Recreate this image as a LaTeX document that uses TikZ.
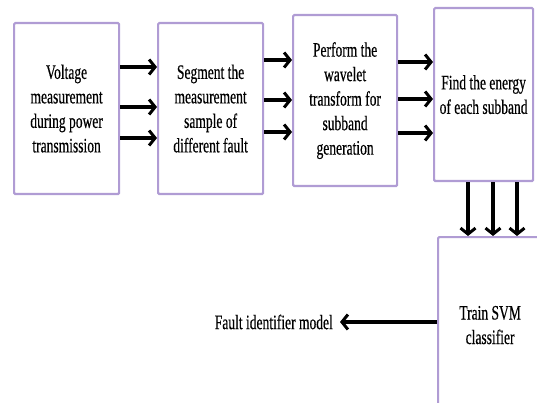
\documentclass[tikz,border=0pt]{standalone}
\usepackage{fontspec}
\usetikzlibrary{arrows.meta,calc}
\newfontfamily\boxfont[FakeStretch=0.66,FakeBold=0.4]{Liberation Serif}
\definecolor{boxedge}{RGB}{176,156,212}
\tikzset{
  stage/.style={draw=boxedge, line width=2.2pt, rounded corners=1.2pt, fill=white,
    anchor=north west, align=center, inner sep=2pt,
    font=\boxfont\fontsize{20.5}{24.5}\selectfont},
  flow/.style={draw=black, line width=3.6pt,
    -{Straight Barb[length=6pt,width=15pt,line width=3pt]}},
  lbl/.style={font=\boxfont\fontsize{20.5}{22}\selectfont, inner sep=0pt}
}
\begin{document}
\begin{tikzpicture}[x=1pt,y=-1pt]
  \useasboundingbox (0,0) rectangle (537,403);
  \clip (0,0) rectangle (537,403);
  % processing stages
  \node[stage, minimum width=105pt, minimum height=171pt] (b1) at (13,22)
    {Voltage\\measurement\\during power\\transmission};
  \node[stage, minimum width=105pt, minimum height=171pt] (b2) at (157,22)
    {Segment the\\measurement\\sample of\\different fault};
  \node[stage, minimum width=104pt, minimum height=171pt] (b3) at (292,14)
    {Perform the\\wavelet\\transform for\\subband\\generation};
  \node[stage, minimum width=99pt, minimum height=173pt] (b4) at (433,7)
    {Find the energy\\of each subband};
  \node[stage, minimum width=104pt, minimum height=176pt] (b5) at (437,236)
    {Train SVM\\classifier};
  % three parallel links between consecutive stages
  \foreach \y in {67,107,138}
    \draw[flow] (b1.east |- {0,\y}) -- (b2.west |- {0,\y});
  \foreach \y in {60,100,132}
    \draw[flow] (b2.east |- {0,\y}) -- (b3.west |- {0,\y});
  \foreach \y in {62,99,133}
    \draw[flow] (b3.east |- {0,\y}) -- (b4.west |- {0,\y});
  \foreach \x in {468,493,517}
    \draw[flow] (b4.south -| {\x,0}) -- (b5.north -| {\x,0});
  % output
  \node[lbl, anchor=east] (out) at (333,322) {Fault identifier model};
  \coordinate (outtip) at (340,322);
  \draw[flow] (b5.west |- outtip) -- (outtip);
\end{tikzpicture}
\end{document}
